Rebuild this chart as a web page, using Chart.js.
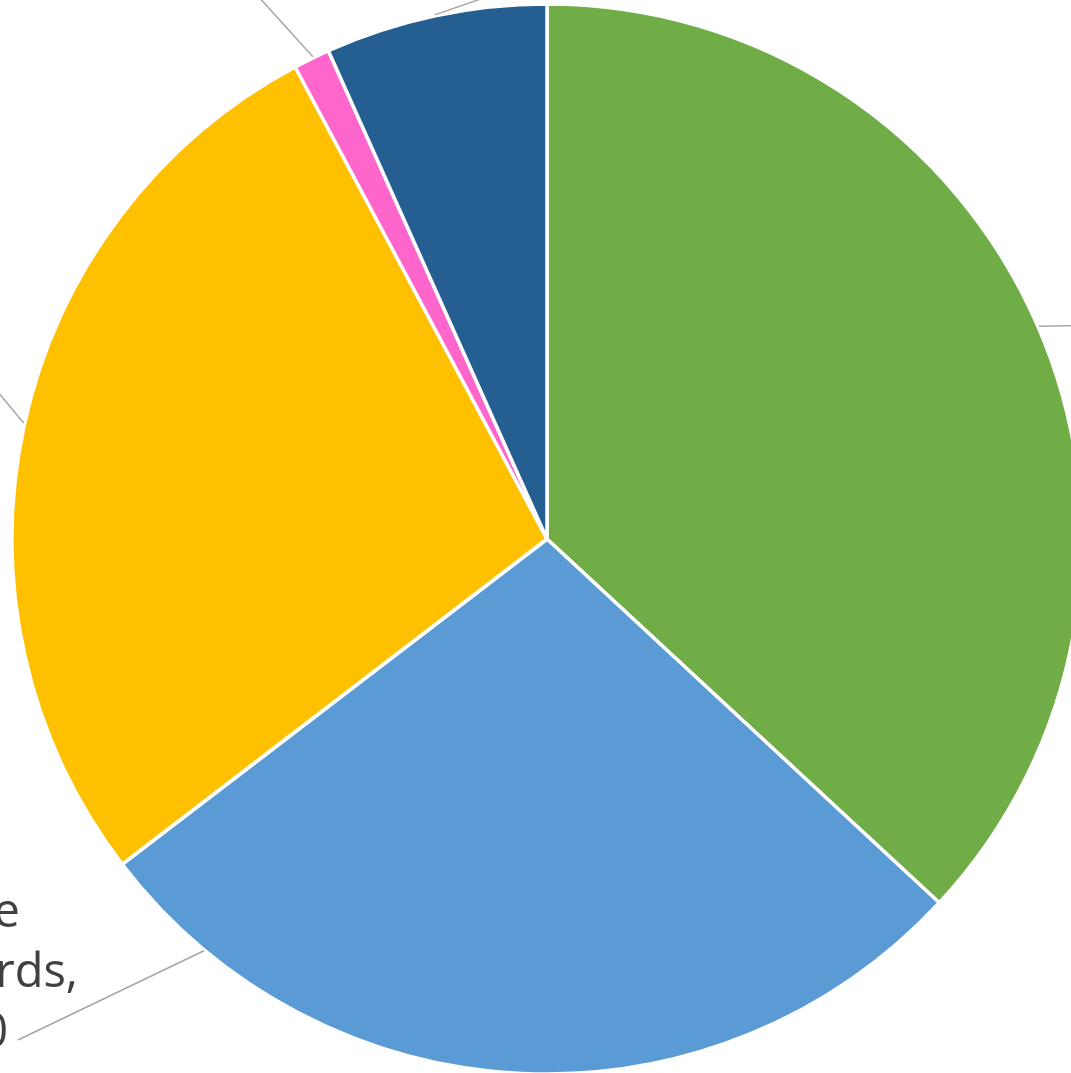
<!DOCTYPE html>
<html>
<head>
<meta charset="utf-8">
<script src="https://cdn.jsdelivr.net/npm/chart.js@4.4.1/dist/chart.umd.min.js"></script>
<style>
  html, body { margin: 0; padding: 0; background: #ffffff; overflow: hidden; width: 1071px; height: 1073px; }
  #wrap { position: absolute; left: -253px; top: -261px; width: 1600px; height: 1600px; }
</style>
</head>
<body>
<div id="wrap"><canvas id="c"></canvas></div>
<script>
// ---- data (share of the pie in %) ----
const categories = ["Meets the standards", "Approaching the standards", "Below the standards", "No data", "Exceeds the standards"];
const values = [36.9, 27.7, 27.6, 1.1, 6.7];
const labelLines = [
  ["Meets the", "standards,", "370"],
  ["Approaching the", "standards,", "280"],
  ["Below the", "standards,", "270"],
  ["No data,", "10"],
  ["Exceeds the", "standards,", "70"]
];
const colors = ["#70AD47", "#5B9BD5", "#FFC000", "#FF66CC", "#255E91"];

// ---- label / leader-line layout (px relative to pie centre) ----
const leaderLayout = [
  { startDeg: 66.6,  end: [560, -214],  lineRight: [70, 70, 70],  baseline: [-60, 0, 60], leftAlign: true },
  { startDeg: 219.8, end: [-529, 501],  lineRight: [2, 60, -10],   baseline: [-113, -53, 7] },
  { startDeg: 282.5, end: [-585, -190], lineRight: [-10, -10, -10], baseline: [-60, 0, 60] },
  { startDeg: 334.1, end: [-300, -555], lineRight: [-10, -10],     baseline: [-110, -50] },
  { startDeg: 347.9, end: [-20, -556],  lineRight: [200, 200, 200], baseline: [-150, -90, -30], leftAlign: true }
];

const labelPlugin = {
  id: 'outerLabels',
  afterDatasetsDraw(chart) {
    const ctx = chart.ctx;
    const meta = chart.getDatasetMeta(0);
    const a0 = meta.data[0];
    const cx = a0.x, cy = a0.y, R = a0.outerRadius;
    ctx.save();
    leaderLayout.forEach((L, i) => {
      const a = L.startDeg * Math.PI / 180;
      const sx = cx + (R + 1) * Math.sin(a);
      const sy = cy - (R + 1) * Math.cos(a);
      const ex = cx + L.end[0], ey = cy + L.end[1];
      ctx.strokeStyle = '#A6A6A6';
      ctx.lineWidth = 1.5;
      ctx.beginPath();
      ctx.moveTo(sx, sy);
      ctx.lineTo(ex, ey);
      ctx.stroke();
      ctx.fillStyle = '#404040';
      ctx.font = '47px "Open Sans", "Noto Sans", sans-serif';
      ctx.textBaseline = 'alphabetic';
      labelLines[i].forEach((t, j) => {
        if (L.leftAlign) {
          ctx.textAlign = 'left';
          ctx.fillText(t, ex + 10, ey + L.baseline[j]);
        } else {
          ctx.textAlign = 'right';
          ctx.fillText(t, ex + L.lineRight[j], ey + L.baseline[j]);
        }
      });
    });
    ctx.restore();
  }
};

new Chart(document.getElementById('c'), {
  type: 'pie',
  data: {
    labels: categories,
    datasets: [{
      data: values,
      backgroundColor: colors,
      borderColor: '#ffffff',
      borderWidth: 3.5
    }]
  },
  options: {
    responsive: true,
    maintainAspectRatio: false,
    animation: false,
    layout: { padding: 263.25 },
    plugins: {
      legend: { display: false },
      tooltip: { enabled: false }
    }
  },
  plugins: [labelPlugin]
});
</script>
</body>
</html>
